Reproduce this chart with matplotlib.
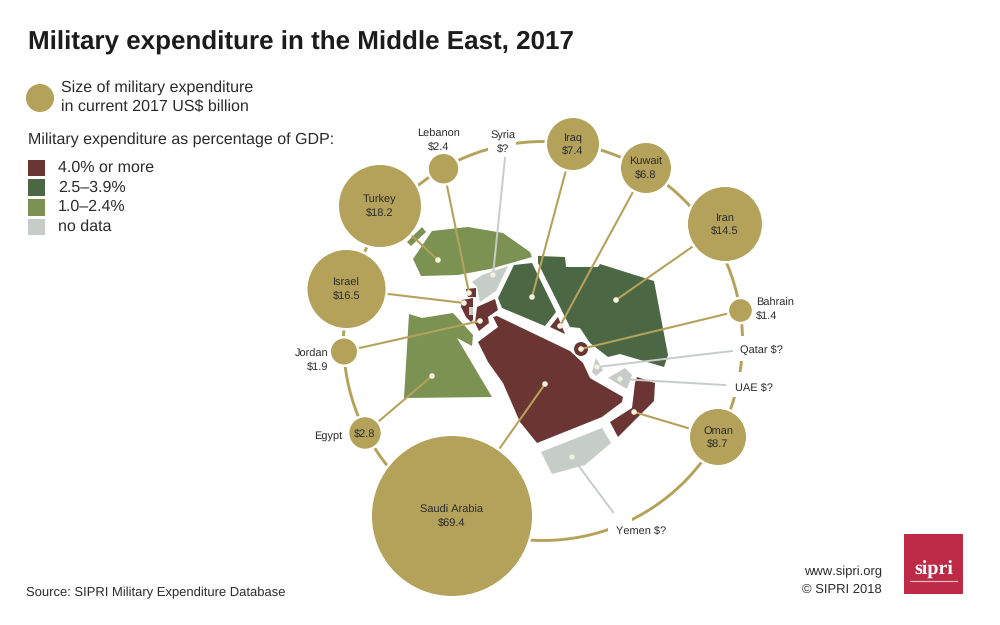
import matplotlib
matplotlib.use("Agg")
import matplotlib.pyplot as plt
from matplotlib.patches import Circle, Polygon, Rectangle, Arc

plt.rcParams['font.family'] = ['Liberation Sans', 'DejaVu Sans']
plt.rcParams['text.hinting'] = 'no_hinting'
plt.rcParams['text.hinting_factor'] = 1

# expenditure, US$ billion
countries = ["Turkey", "Lebanon", "Iraq", "Kuwait", "Iran", "Bahrain", "Oman",
             "Saudi Arabia", "Egypt", "Jordan", "Israel"]
spending = [18.2, 2.4, 7.4, 6.8, 14.5, 1.4, 8.7, 69.4, 2.8, 1.9, 16.5]
no_data = ["Syria", "Qatar", "UAE", "Yemen"]

legend_labels = ["4.0% or more", "2.5–3.9%", "1.0–2.4%", "no data"]

TAN = "#b5a25a"
RED = "#6a3533"
DGREEN = "#4b6743"
LGREEN = "#7b9252"
GREY = "#c6cdc8"
DOT = "#f5f1dd"
TXT = "#2b2b2b"
legend_colors = [RED, DGREEN, LGREEN, GREY]

# bubble position and radius in pixels
bubble_x = [380, 443.5, 573, 646, 725, 740.5, 718, 452, 365, 344, 346.5]
bubble_y = [206, 168.7, 144, 168, 224, 310.5, 437, 516, 433, 351.5, 289]
bubble_r = [41, 14.7, 26, 25, 37, 11.3, 28, 80, 15.7, 13, 39]
# where the leader ends on the map
dot_x = [438, 469, 532, 560, 616, 581, 634, 545, 432, 480, 464]
dot_y = [260, 293, 297, 326, 300, 349, 412, 384, 376, 321, 303]

# schematic map shapes, pixels
shapes = [
    (LGREEN, [(413, 259), (421, 276), (458, 275), (490, 269), (532, 257), (530, 252),
              (503, 233), (468, 227), (432, 231)]),
    (LGREEN, [(407, 242), (422, 227), (426, 232), (411, 246)]),
    (GREY, [(472, 282), (482, 275), (508, 266), (496, 291), (480, 302), (477, 287)]),
    (RED, [(466, 289), (476, 288), (476, 297), (468, 297)]),
    (RED, [(462, 300), (473, 298), (473, 320), (471, 322), (466, 317), (461, 307)]),
    (GREY, [(469, 307), (473, 307), (473, 315), (469, 315)]),
    (RED, [(477, 307), (495, 299), (498, 310), (488, 317), (489, 323), (479, 331), (475, 323)]),
    (DGREEN, [(498, 298), (514, 265), (532, 263), (556, 312), (545, 326), (502, 308)]),
    (RED, [(550, 327), (558, 317), (565, 334)]),
    (DGREEN, [(538, 256), (565, 257), (566, 267), (598, 267), (600, 264), (654, 281),
              (668, 355), (664, 367), (620, 354), (608, 357), (590, 343), (580, 328),
              (570, 327), (538, 263)]),
    (GREY, [(596, 358), (603, 370), (596, 376), (592, 372)]),
    (GREY, [(608, 378), (625, 368), (632, 375), (627, 389)]),
    (RED, [(637, 377), (655, 383), (654, 401), (618, 437), (610, 422), (632, 408), (635, 383)]),
    (GREY, [(541, 452), (602, 428), (611, 443), (585, 465), (552, 474)]),
    (RED, [(478, 342), (498, 327), (493, 317), (497, 316), (570, 351), (583, 363),
           (590, 378), (595, 381), (623, 397), (622, 402), (602, 417), (537, 443),
           (520, 422), (503, 383), (488, 362)]),
    (LGREEN, [(409, 314), (422, 318), (453, 313), (473, 335), (472, 346), (457, 338),
              (492, 397), (404, 398)]),
]

fig = plt.figure(figsize=(10, 6.25), dpi=100)
ax = fig.add_axes([0, 0, 1, 1])
ax.set_xlim(0, 1000)
ax.set_ylim(625, 0)
ax.axis("off")

# ring with the white gaps for the labels
ax.add_patch(Arc((543, 341), 399, 399, color=TAN, lw=2.1, zorder=1))
for x0, y0, x1, y1 in [(488, 128, 516, 158), (733, 336, 760, 361),
                       (722, 372, 745, 397), (608, 510, 632, 535)]:
    ax.add_patch(Rectangle((x0, y0), x1 - x0, y1 - y0, fc="white", ec="none", zorder=2))

for col, pts in shapes:
    ax.add_patch(Polygon(pts, closed=True, fc=col, ec="none", zorder=3))
# Bahrain is a small ring
ax.add_patch(Circle((581, 349), 7, fc=RED, ec="none", zorder=3))

# grey leaders for the no data countries
grey_lines = [((505, 158), (493, 275)), ((732, 351), (597, 367)),
              ((725, 385), (620, 379)), ((613, 512), (572, 457))]
for a, b in grey_lines:
    ax.plot([a[0], b[0]], [a[1], b[1]], color=GREY, lw=1.4, zorder=4)
    ax.add_patch(Circle(b, 2.6, fc=DOT, ec="none", zorder=6))

for i in range(len(countries)):
    ax.plot([bubble_x[i], dot_x[i]], [bubble_y[i], dot_y[i]], color=TAN, lw=1.5, zorder=4)
    ax.add_patch(Circle((dot_x[i], dot_y[i]), 2.8, fc=DOT, ec="none", zorder=6))
    # white halo so ring and leaders stop short of the bubble
    ax.add_patch(Circle((bubble_x[i], bubble_y[i]), bubble_r[i] + 2.5, fc="white", ec="none", zorder=4.5))
    ax.add_patch(Circle((bubble_x[i], bubble_y[i]), bubble_r[i], fc=TAN, ec="none", zorder=5))

fs = 8.2
ls = 1.25
for i in range(len(countries)):
    name = countries[i]
    val = "$%.1f" % spending[i]
    if name == "Lebanon":
        ax.text(439, 140.5, name + "\n" + val, ha="center", va="center", fontsize=fs, color=TXT, linespacing=ls, zorder=7)
    elif name == "Bahrain":
        ax.text(756, 309.5, name + "\n" + val, ha="left", va="center", fontsize=fs, color=TXT, linespacing=ls, zorder=7)
    elif name == "Jordan":
        ax.text(328, 360.5, name + "\n" + val, ha="right", va="center", fontsize=fs, color=TXT, linespacing=ls, multialignment="right", zorder=7)
    elif name == "Egypt":
        ax.text(342, 436, name, ha="right", va="center", fontsize=fs, color=TXT, zorder=7)
        ax.text(365, 433, val, ha="center", va="center", fontsize=fs, color=TXT, zorder=7)
    else:
        ax.text(bubble_x[i], bubble_y[i], name + "\n" + val, ha="center", va="center", fontsize=fs, color=TXT, linespacing=ls, zorder=7)

ax.text(503, 142, no_data[0] + "\n$?", ha="center", va="center", fontsize=fs, color=TXT, linespacing=ls, zorder=7)
ax.text(740, 350, no_data[1] + " $?", ha="left", va="center", fontsize=fs, color=TXT, zorder=7)
ax.text(735, 387, no_data[2] + " $?", ha="left", va="center", fontsize=fs, color=TXT, zorder=7)
ax.text(616, 530, no_data[3] + " $?", ha="left", va="center", fontsize=fs, color=TXT, zorder=7)

# title and legend
ax.text(28, 43, "Military expenditure in the Middle East, 2017", fontsize=18.7, fontweight="bold", color="#1c1c1c", va="center")
ax.add_patch(Circle((40, 98), 14, fc=TAN, ec="none"))
ax.text(61, 88, "Size of military expenditure", fontsize=11.85, color=TXT, va="center")
ax.text(61, 107, "in current 2017 US$ billion", fontsize=11.85, color=TXT, va="center")
ax.text(28, 140, "Military expenditure as percentage of GDP:", fontsize=11.85, color=TXT, va="center")
for i in range(len(legend_labels)):
    ax.add_patch(Rectangle((28, 159.5 + i * 19.8), 17, 16.5, fc=legend_colors[i], ec="none"))
    ax.text(58, 167.5 + i * 19.8, legend_labels[i], fontsize=11.85, color=TXT, va="center")

ax.text(26, 593, "Source: SIPRI Military Expenditure Database", fontsize=9.7, color=TXT, va="center")
ax.text(882, 572, "www.sipri.org", fontsize=9.6, color=TXT, va="center", ha="right")
ax.text(882, 590, "© SIPRI 2018", fontsize=9.6, color=TXT, va="center", ha="right")

# logo
ax.add_patch(Rectangle((904, 534), 59, 60, fc="#bc2a46", ec="none"))
ax.text(933.5, 570, "sipri", family="Liberation Serif", fontweight="bold", fontsize=14.5, color="white", ha="center", va="center")
ax.plot([910, 957], [581, 581], color="#e8b8c0", lw=0.9)

fig.savefig("out.png", dpi=100)
